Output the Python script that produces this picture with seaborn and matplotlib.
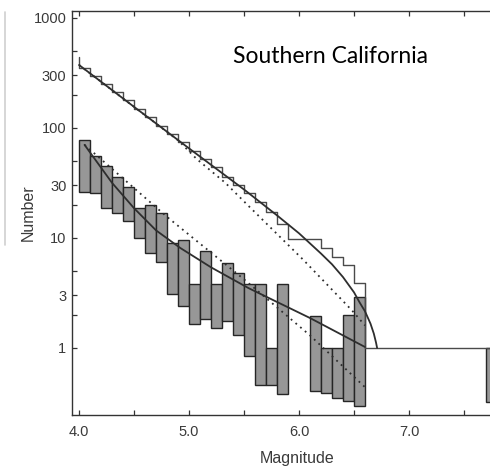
import matplotlib
matplotlib.use("Agg")
import matplotlib.pyplot as plt
from matplotlib.lines import Line2D
from matplotlib.ticker import NullLocator
import pandas as pd
import seaborn as sns

# Cumulative number of events N(>=M), one level per 0.1-magnitude bin
cum_bins = [4.0, 4.1, 4.2, 4.3, 4.4, 4.5, 4.6, 4.7, 4.8, 4.9, 5.0, 5.1, 5.2,
            5.3, 5.4, 5.5, 5.6, 5.7, 5.8, 5.9, 6.0, 6.1, 6.2, 6.3, 6.4, 6.5]
cum_counts = [352, 296, 251, 211, 177, 148, 124, 104, 87, 74, 62, 52, 44,
              36, 30, 25.5, 21, 17, 13.5, 9.8, 9.8, 9.8, 8.1, 6.7, 5.7, 3.9]
cum_first_edge = 442
cum_tail_start = 6.6
cum_tail_end = 8.0
cum_tail_level = 1

# Incremental counts: range drawn for each 0.1-magnitude bin
inc_bins = [4.0, 4.1, 4.2, 4.3, 4.4, 4.5, 4.6, 4.7, 4.8, 4.9, 5.0, 5.1, 5.2,
            5.3, 5.4, 5.5, 5.6, 5.7, 5.8, 6.1, 6.2, 6.3, 6.4, 6.5, 7.7]
inc_low = [26.2, 25.7, 18.7, 16.9, 14.3, 10.0, 7.3, 6.05, 3.1, 2.4, 1.65, 1.84,
           1.52, 1.76, 1.31, 0.85, 0.46, 0.46, 0.38, 0.41, 0.39, 0.35, 0.33,
           0.30, 0.32]
inc_high = [77.8, 55.6, 45.0, 35.9, 29.0, 18.7, 20.0, 16.9, 9.0, 9.6, 3.8, 7.6,
            3.8, 5.9, 4.8, 3.8, 3.8, 1.0, 3.8, 1.95, 1.0, 1.0, 2.0, 2.9, 1.0]

# Model curves (magnitude, number)
cum_model_m = [4.0, 4.5, 5.0, 5.5, 5.8, 6.0, 6.1, 6.2, 6.3, 6.4, 6.5, 6.55,
               6.6, 6.65, 6.68, 6.70, 6.71]
cum_model_n = [372, 155, 65, 27.5, 16, 11, 8.9, 7.2, 5.75, 4.4, 3.2, 2.6,
               2.15, 1.66, 1.35, 1.12, 1.0]
cum_alt_m = [4.0, 4.5, 4.9, 5.07, 5.33, 5.55, 6.04, 6.48, 6.6]
cum_alt_n = [372, 155, 77, 52, 31.6, 19.1, 6.3, 2.2, 1.6]

inc_model_m = [4.05, 4.3, 4.5, 4.7, 4.92, 5.2, 5.54, 6.1, 6.6]
inc_model_n = [70, 31.6, 18.6, 11.7, 8.1, 5.4, 3.5, 1.87, 1.02]
inc_alt_m = [4.05, 4.8, 5.5, 6.1, 6.6]
inc_alt_n = [70, 15.5, 4.2, 1.3, 0.44]

y_ticks = [1, 2, 3, 5, 10, 20, 30, 50, 100, 200, 300, 500, 1000]
y_tick_labels = ["1", "", "3", "", "10", "", "30", "", "100", "", "300", "", "1000"]
x_ticks = [4.0, 4.5, 5.0, 5.5, 6.0, 6.5, 7.0, 7.5]
x_tick_labels = ["4.0", "", "5.0", "", "6.0", "", "7.0", ""]

sns.set_theme(style="ticks")
plt.rcParams["font.family"] = ["Liberation Sans", "DejaVu Sans"]

ink = "#2e2e2e"
fig = plt.figure(figsize=(4.9, 4.68), dpi=100)
fig.patch.set_facecolor("white")
ax = fig.add_axes([72 / 490, 53 / 468, 447 / 490, 404 / 468])
ax.set_facecolor("white")
ax.set_yscale("log")

# incremental ranges as boxes
heights = [h - l for h, l in zip(inc_high, inc_low)]
ax.bar(inc_bins, heights, bottom=inc_low, width=0.1, align="edge",
       color="#979797", edgecolor="#262626", linewidth=1.0, zorder=2)

# cumulative staircase
step_x = [cum_bins[0]] + cum_bins + [cum_tail_start, cum_tail_end]
step_y = [cum_first_edge] + cum_counts + [cum_tail_level, cum_tail_level]
steps = pd.DataFrame({"m": step_x, "n": step_y})
sns.lineplot(data=steps, x="m", y="n", ax=ax, sort=False, estimator=None,
             drawstyle="steps-post", color="#4a4a4a", linewidth=1.0, zorder=3)

# model curves
for mm, nn, ls in [(cum_model_m, cum_model_n, "-"),
                   (cum_alt_m, cum_alt_n, (0, (1.0, 2.4))),
                   (inc_model_m, inc_model_n, "-"),
                   (inc_alt_m, inc_alt_n, (0, (1.0, 2.4)))]:
    sns.lineplot(x=mm, y=nn, ax=ax, sort=False, estimator=None,
                 color=ink, linewidth=1.3, linestyle=ls, zorder=4)

ax.set_xlim(3.936, 8.0)
ax.set_ylim(0.246, 1150)

ax.set_yticks(y_ticks)
ax.set_yticklabels(y_tick_labels)
ax.yaxis.set_minor_locator(NullLocator())
ax.set_xticks(x_ticks)
ax.set_xticklabels(x_tick_labels)
ax.xaxis.set_minor_locator(NullLocator())

ax.tick_params(direction="in", top=True, right=False, length=3.8, width=0.9,
               color="#333333", labelcolor="#3a3a3a", labelsize=10.5)
ax.tick_params(axis="x", pad=7)
ax.tick_params(axis="y", pad=4)
for side in ["left", "top", "bottom", "right"]:
    ax.spines[side].set_color("#333333")
    ax.spines[side].set_linewidth(1.0)

ax.set_xlabel("Magnitude", fontsize=11.5, color="#3a3a3a")
ax.set_ylabel("Number", fontsize=11.5, color="#3a3a3a")
ax.xaxis.set_label_coords((297 - 72) / 447, -0.088)
ax.yaxis.set_label_coords(-0.082, 0.5)

ax.text(0.36, 0.871, "Southern California", transform=ax.transAxes,
        fontsize=16.5, family=["Lato", "DejaVu Sans"], color="black",
        va="baseline", ha="left")

# faint edge line along the left margin
fig.add_artist(Line2D([5 / 490, 5 / 490], [1 - 12 / 468, 1 - 245 / 468],
                      color="#cfcfcf", linewidth=1.2))

fig.savefig("out.png", dpi=100)
